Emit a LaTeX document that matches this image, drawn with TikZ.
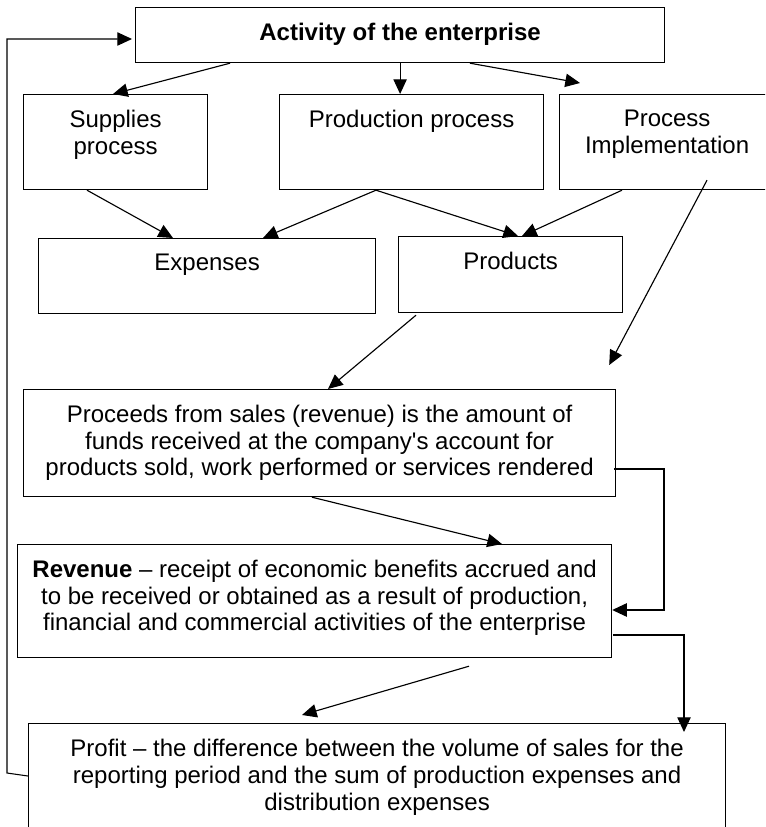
\documentclass[tikz,border=0pt]{standalone}
\usepackage{fontspec}
\setmainfont{Liberation Sans}
\usetikzlibrary{positioning,arrows.meta,calc}
\tikzset{
box/.style={
draw,
line width=0.9pt,
anchor=north west,
inner sep=0pt
},
dims/.style 2 args={
minimum width=#1*0.75pt,
minimum height=#2*0.75pt
},
boxtext/.style={
align=center,
anchor=north,
inner sep=0pt,
yshift=-12pt,
font=\fontsize{18pt}{20pt}\selectfont
},
arrow/.style={
-{Triangle[length=11pt,width=10pt]},
line width=0.85pt
}
}
\begin{document}
\begin{tikzpicture}[x=0.75pt,y=-0.75pt]
\useasboundingbox(0,0)rectangle(765,827);
\clip(0,0)rectangle(765,827);
% boxes
\node[box,dims={529}{55},label={[boxtext]north:\textbf{Activity of the enterprise}}](act) at (135,7){};
\node[box,dims={184}{95},label={[boxtext]north:Supplies\\process}](sup) at (23,94){};
\node[box,dims={264}{95},label={[boxtext]north:Production process}](prod) at (279,94){};
\node[box,dims={215}{95},label={[boxtext]north:Process\\Implementation}](impl) at (559,94){};
\node[box,dims={337}{75},label={[boxtext]north:Expenses}](exp) at (38,238){};
\node[box,dims={224}{76},label={[boxtext]north:Products}](pdt) at (398,236){};
\node[box,dims={592}{107},label={[boxtext]north:Proceeds from sales (revenue) is the amount of\\funds received at the company\textquotesingle s account for\\products sold{,} work performed or services rendered}](proc) at (23,389){};
\node[box,dims={594}{113},label={[boxtext]north:\textbf{Revenue} -- receipt of economic benefits accrued and\\to be received or obtained as a result of production{,}\\financial and commercial activities of the enterprise}](rev) at (17,544){};
\node[box,dims={697}{130},label={[boxtext]north:Profit -- the difference between the volume of sales for the\\reporting period and the sum of production expenses and\\distribution expenses}](prof) at (28,723){};

% from the activity box
\draw[arrow]($(act.south west)+(95,0)$)--($(sup.north west)+(90,0)$);
\draw[arrow](act.south)--(act.south|-prod.north);
\coordinate(impltip) at ($(impl.north west)+(21,-11)$);
\draw[arrow]($(act.south west)+(335,0)$)--(impltip);

% to expenses and products
\coordinate(prodout) at ($(prod.south west)+(97,0)$);
\draw[arrow]($(sup.south west)+(64,0)$)--($(exp.north west)+(135,0)$);
\draw[arrow](prodout)--($(exp.north west)+(225,0)$);
\draw[arrow](prodout)--($(pdt.north west)+(120,0)$);
\draw[arrow]($(impl.south west)+(63,0)$)--($(pdt.north west)+(124,0)$);

% to proceeds
\coordinate(salestip) at ($(proc.north east)+(-7,-24)$);
\draw[arrow]($(impl.south west)+(148,-10)$)--(salestip);
\draw[arrow]($(pdt.south west)+(18,2)$)--($(proc.north west)+(305,0)$);

% to revenue
\draw[arrow]($(proc.south west)+(289,0)$)--($(rev.north west)+(485,0)$);
\draw[arrow,line width=1.2pt]($(proc.north east)+(-2,80)$)--++(50,0)|-($(rev.north east)+(0,66)$);

% to profit
\draw[arrow]($(rev.south west)+(452,8)$)--($(prof.north west)+(274,-8)$);
\draw[arrow]($(rev.north east)+(1,91)$)-|($(prof.north west)+(656,9)$);

% back to the activity box
\coordinate(fbcorner) at (7,773);
\draw[arrow,line width=0.8pt]($(prof.north west)+(0,53)$)--(fbcorner)|-($(act.north west)+(-3,32)$);
\end{tikzpicture}
\end{document}
